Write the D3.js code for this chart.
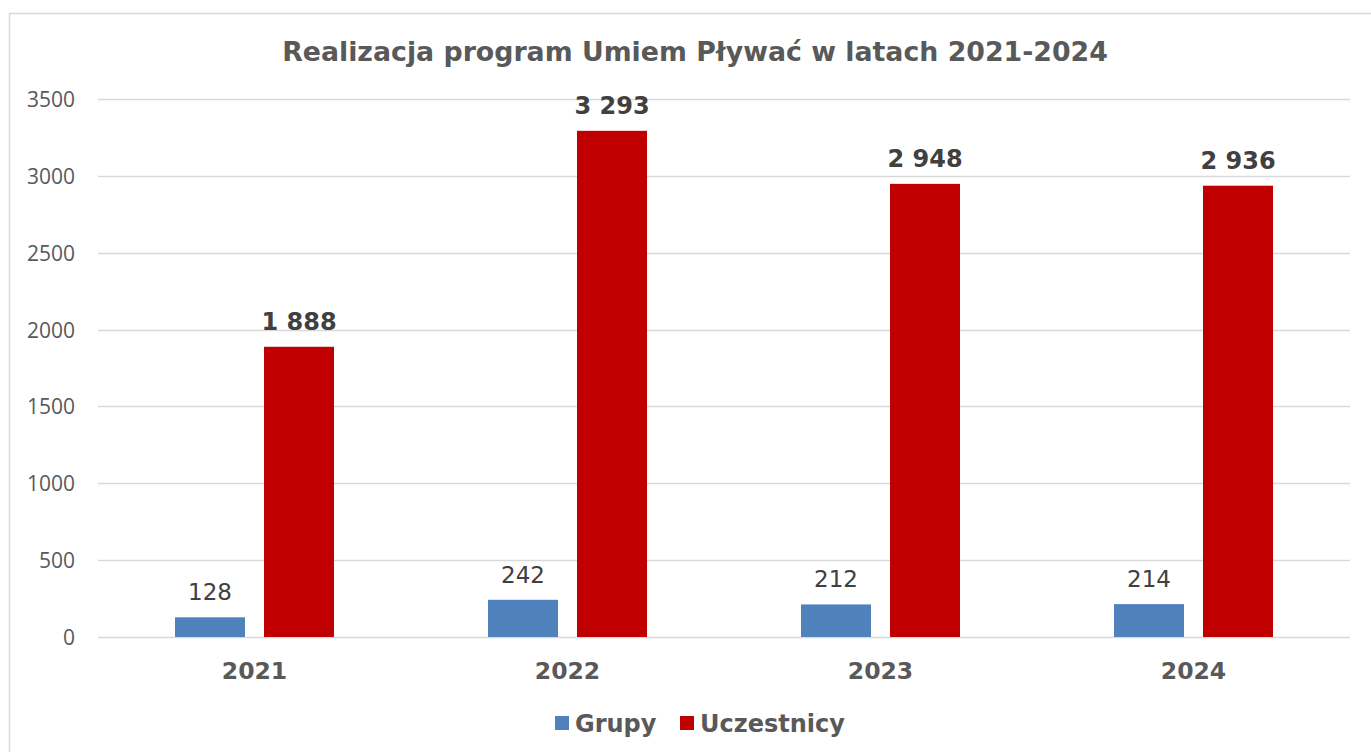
<!DOCTYPE html>
<html>
<head>
<meta charset="utf-8">
<script src="https://cdn.jsdelivr.net/npm/d3@7/dist/d3.min.js"></script>
<style>
  html, body { margin: 0; padding: 0; background: #fff; }
  svg { display: block; }
</style>
</head>
<body>
<svg id="chart" width="1371" height="752"></svg>
<script>
const title = "Realizacja program Umiem Pływać w latach 2021-2024";
const categories = ["2021", "2022", "2023", "2024"];
const seriesNames = ["Grupy", "Uczestnicy"];
const grupy = [128, 242, 212, 214];
const uczestnicy = [1888, 3293, 2948, 2936];
const yTicks = [0, 500, 1000, 1500, 2000, 2500, 3000, 3500];
const colors = ["#4F81BD", "#C00000"];

const seriesValues = [grupy, uczestnicy];
const svg = d3.select("#chart");
const W = 1371, H = 752;
const plot = { left: 98, right: 1350, top: 99, bottom: 637 };
const FONT = "'DejaVu Sans', Verdana, sans-serif";

const fmt = d3.formatLocale({ decimal: ",", thousands: " ", grouping: [3], currency: ["", ""] }).format(",d");

// chart border
svg.append("rect")
  .attr("x", 9.5).attr("y", 13.5)
  .attr("width", W + 20).attr("height", H + 20)
  .attr("fill", "#fff").attr("stroke", "#d9d9d9").attr("stroke-width", 1.5);

const y = d3.scaleLinear().domain([0, 3500]).range([plot.bottom, plot.top]);
const p0 = 154 / 313;
const x0 = d3.scaleBand().domain(categories).range([plot.left, plot.right])
  .paddingInner(p0).paddingOuter(p0 / 2);
const x1 = d3.scaleBand().domain(seriesNames).range([0, x0.bandwidth()])
  .paddingInner(19 / 89).paddingOuter(0);

// gridlines
svg.append("g").selectAll("line").data(yTicks).join("line")
  .attr("x1", plot.left).attr("x2", plot.right)
  .attr("y1", d => Math.round(y(d)) + 0.5).attr("y2", d => Math.round(y(d)) + 0.5)
  .attr("stroke", "#d9d9d9").attr("stroke-width", 1.5);

// y axis labels
const yAxis = d3.axisLeft(y).tickValues(yTicks).tickSize(0).tickPadding(0).tickFormat(d3.format("d"));
const gy = svg.append("g").attr("transform", "translate(75,0)").call(yAxis);
gy.select(".domain").remove();
gy.selectAll("text")
  .attr("font-family", "'Open Sans', sans-serif").attr("font-size", 21)
  .attr("fill", "#595959").attr("dy", "0.36em");

// x axis labels
const xAxis = d3.axisBottom(x0).tickSize(0).tickPadding(0);
const gx = svg.append("g").attr("transform", "translate(0,679)").call(xAxis);
gx.select(".domain").remove();
gx.selectAll("text")
  .attr("font-family", FONT).attr("font-size", 23.5).attr("font-weight", "bold")
  .attr("fill", "#595959").attr("dy", 0).attr("y", 0);

// bars
const groups = svg.append("g").selectAll("g").data(categories).join("g")
  .attr("transform", d => `translate(${x0(d)},0)`);

groups.selectAll("rect")
  .data((c, i) => seriesNames.map((s, j) => ({ s, j, v: seriesValues[j][i] })))
  .join("rect")
  .attr("x", d => x1(d.s)).attr("width", x1.bandwidth())
  .attr("y", d => y(d.v)).attr("height", d => y(0) - y(d.v))
  .attr("fill", d => colors[d.j]);

groups.selectAll("text")
  .data((c, i) => seriesNames.map((s, j) => ({ s, j, v: seriesValues[j][i] })))
  .join("text")
  .attr("x", d => x1(d.s) + x1.bandwidth() / 2)
  .attr("y", d => y(d.v) - 17)
  .attr("text-anchor", "middle")
  .attr("font-family", FONT).attr("font-size", d => d.j === 1 ? 24 : 23)
  .attr("font-weight", d => d.j === 1 ? "bold" : "normal")
  .attr("fill", "#404040")
  .text(d => fmt(d.v));

// title
const t = svg.append("text")
  .attr("x", 695).attr("y", 61).attr("text-anchor", "middle")
  .attr("font-family", FONT).attr("font-weight", "bold").attr("font-size", 24)
  .attr("fill", "#595959").text(title);
const tw = t.node().getComputedTextLength();
t.attr("font-size", 24 * 826 / tw);

// legend
const legX = [555, 680];
const leg = svg.append("g").selectAll("g").data(seriesNames).join("g")
  .attr("transform", (d, i) => `translate(${legX[i]},716)`);
leg.append("rect").attr("width", 14).attr("height", 14).attr("fill", (d, i) => colors[i]);
leg.append("text").attr("x", 20).attr("y", 15.5)
  .attr("font-family", FONT).attr("font-size", 24).attr("font-weight", "bold")
  .attr("fill", "#595959").text(d => d);
</script>
</body>
</html>
